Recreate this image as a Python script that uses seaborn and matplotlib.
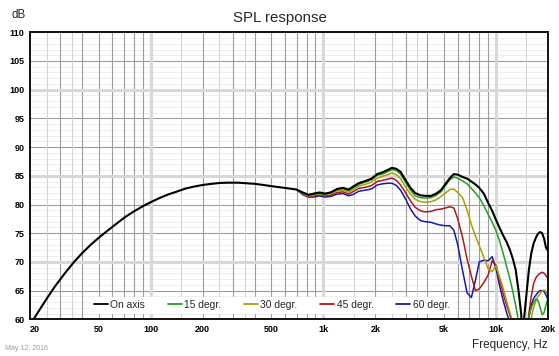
import matplotlib
matplotlib.use("Agg")
import matplotlib.pyplot as plt
import seaborn as sns
from matplotlib.lines import Line2D

# ── Data ──────────────────────────────────────────────────────────────────────
freq_low = [20, 22, 25, 28, 32, 36, 40, 45, 50, 56,
            63, 71, 80, 90, 100, 112, 125, 140, 160, 180,
            200, 225, 250, 280, 320, 360, 400, 450, 500, 560, 630]
spl_low = [59.0, 61.0, 63.6, 65.8, 68.1, 70.0, 71.5, 73.0, 74.2, 75.4,
           76.6, 77.8, 78.8, 79.7, 80.4, 81.1, 81.7, 82.2, 82.8, 83.15,
           83.4, 83.6, 83.75, 83.8, 83.8, 83.7, 83.6, 83.4, 83.2, 83.0, 82.8]

freq_hi = [700, 760, 820, 880, 950, 1020, 1100, 1200, 1300, 1400,
           1500, 1600, 1750, 1900, 2050, 2200, 2350, 2500, 2650, 2800,
           3000, 3200, 3400, 3650, 3900, 4200, 4500, 4800, 5100, 5400,
           5700, 6000, 6400, 6800, 7200, 7600, 8000, 8500, 9000, 9500,
           10000, 10500, 11000, 11500, 12000, 12500, 13000, 13500, 14000, 14250,
           14500, 15000, 15500, 16000, 16500, 17000, 17500, 18000, 18500, 19000,
           19500, 20000]

spl_on_hi = [82.6, 82.1, 81.7, 81.9, 82.1, 81.9, 82.1, 82.7, 82.9, 82.6,
             83.2, 83.7, 84.1, 84.5, 85.3, 85.6, 86.0, 86.4, 86.2, 85.7,
             84.2, 82.9, 82.0, 81.6, 81.5, 81.5, 81.9, 82.5, 83.6, 84.6,
             85.3, 85.2, 84.8, 84.5, 84.0, 83.5, 82.9, 81.9, 80.3, 78.9,
             77.3, 75.9, 74.6, 73.5, 72.2, 70.6, 68.6, 65.0, 60.8, 53.0,
             59.8, 64.3, 68.6, 71.5, 73.2, 74.2, 74.9, 75.2, 75.0, 74.0,
             72.4, 72.0]

spl_15 = [82.6, 81.9, 81.6, 81.8, 82.0, 81.8, 82.0, 82.6, 82.8, 82.4,
          83.0, 83.5, 83.9, 84.3, 85.1, 85.3, 85.7, 86.1, 85.9, 85.3,
          83.8, 82.5, 81.5, 81.2, 81.1, 81.2, 81.6, 82.2, 83.3, 84.3,
          84.8, 84.6, 84.1, 83.6, 82.8, 82.0, 81.2, 79.8, 78.3, 76.9,
          75.4, 73.6, 71.5, 69.3, 67.2, 64.9, 62.4, 59.6, 56.5, 55.0,
          54.0, 57.0, 60.5, 62.0, 62.9, 63.5, 63.3, 62.1, 60.8, 61.2,
          62.6, 63.7]

spl_30 = [82.6, 81.9, 81.5, 81.7, 81.9, 81.7, 81.9, 82.4, 82.5, 82.1,
          82.7, 83.2, 83.5, 83.9, 84.6, 84.9, 85.2, 85.5, 85.2, 84.5,
          83.0, 81.8, 80.9, 80.5, 80.4, 80.5, 80.8, 81.4, 82.0, 82.6,
          82.7, 82.1, 81.2, 79.0, 76.5, 74.5, 72.8, 70.8, 68.8, 68.3,
          69.3, 67.3, 65.4, 63.2, 61.3, 59.6, 57.5, 55.5, 53.5, 53.0,
          53.0, 54.5, 57.5, 60.2, 62.0, 63.2, 64.0, 64.5, 64.9, 65.1,
          64.8, 64.2]

spl_45 = [82.6, 81.8, 81.4, 81.5, 81.7, 81.5, 81.6, 82.1, 82.2, 81.8,
          82.3, 82.8, 83.0, 83.3, 84.0, 84.2, 84.4, 84.6, 84.2, 83.4,
          82.0, 80.6, 79.5, 78.9, 78.7, 78.8, 79.1, 79.2, 79.4, 79.6,
          79.4, 77.5, 74.3, 70.5, 67.5, 65.0, 65.3, 66.4, 67.7, 70.2,
          69.4, 66.8, 64.5, 62.5, 60.8, 59.0, 57.0, 55.0, 53.5, 53.0,
          53.5, 57.0, 61.0, 64.0, 66.2, 67.2, 67.7, 68.0, 68.2, 68.0,
          67.6, 67.1]

spl_60 = [82.6, 81.7, 81.3, 81.3, 81.5, 81.3, 81.4, 81.8, 81.9, 81.5,
          81.8, 82.3, 82.5, 82.7, 83.4, 83.6, 83.7, 83.7, 83.3, 82.5,
          80.9, 79.2, 78.0, 77.2, 77.0, 76.9, 76.6, 76.4, 76.3, 76.3,
          75.5, 73.0, 68.5, 64.6, 63.8, 66.8, 70.0, 70.3, 70.2, 70.9,
          68.8, 65.8, 63.3, 61.2, 59.5, 57.8, 56.0, 54.5, 53.5, 53.0,
          53.5, 56.5, 60.3, 62.5, 63.6, 64.2, 64.7, 65.0, 65.0, 64.8,
          64.2, 63.4]

series_names = ["On axis", "15 degr.", "30 degr.", "45 degr.", "60 degr."]
series_colors = ["#000000", "#20a020", "#a8a000", "#b01818", "#1818b0"]

x_ticks = [20, 50, 100, 200, 500, 1000, 2000, 5000, 10000, 20000]
x_tick_labels = ["20", "50", "100", "200", "500", "1k", "2k", "5k", "10k", "20k"]
y_ticks = list(range(60, 111, 5))

# ── Style ─────────────────────────────────────────────────────────────────────
sns.set_style("white")
plt.rcParams["font.family"] = ["Liberation Sans", "DejaVu Sans"]

W, H = 559, 356
fig = plt.figure(figsize=(W / 100, H / 100), dpi=100)
ax = fig.add_axes([30 / W, 1 - 319.3 / H, 518 / W, 287 / H])

ax.set_xscale("log")
ax.set_xlim(20, 20000)
ax.set_ylim(60, 110)

# grid: 1 dB light, 5 dB grey, a few wide pale bands
for v in range(61, 110):
    ax.axhline(v, color="#ebebeb", lw=0.6, zorder=0.5)
for v in y_ticks:
    ax.axhline(v, color="#9c9c9c", lw=0.8, zorder=0.6)
for v in [70, 85, 100]:
    ax.axhline(v, color="#d8d8d8", lw=2.2, zorder=0.7)

for dec in [10, 100, 1000, 10000]:
    for m in range(2, 10):
        f = m * dec
        if 20 < f < 20000:
            ax.axvline(f, color="#9c9c9c", lw=0.8, zorder=0.6)
for f in [25, 35, 150, 250, 350, 1500, 2500, 3500, 15000]:
    ax.axvline(f, color="#d0d0d0", lw=0.7, zorder=0.6)
for f in [100, 1000, 10000]:
    ax.axvline(f, color="#d8d8d8", lw=2.2, zorder=0.7)

# curves: off-axis first, on-axis on top
off_axis = [spl_15, spl_30, spl_45, spl_60]
for vals, col in reversed(list(zip(off_axis, series_colors[1:]))):
    sns.lineplot(x=freq_hi, y=vals, color=col, lw=1.1, ax=ax,
                 estimator=None, sort=False, zorder=2)
sns.lineplot(x=freq_low + freq_hi, y=spl_low + spl_on_hi, color=series_colors[0],
             lw=1.5, ax=ax, estimator=None, sort=False, zorder=3)

ax.set_xticks(x_ticks)
ax.set_xticklabels(x_tick_labels)
ax.xaxis.set_minor_locator(matplotlib.ticker.NullLocator())
ax.set_yticks(y_ticks)
ax.set_yticklabels([str(v) for v in y_ticks])
ax.tick_params(axis="both", length=0, labelsize=6.5, colors="#000000")
ax.tick_params(axis="x", pad=4)
ax.tick_params(axis="y", pad=4)
for lbl in ax.get_xticklabels() + ax.get_yticklabels():
    lbl.set_fontweight("bold")
ax.get_xticklabels()[0].set_horizontalalignment("left")
ax.set_xlabel("")
ax.set_ylabel("")

for side in ["left", "bottom", "top", "right"]:
    ax.spines[side].set_visible(True)
    ax.spines[side].set_color("#111111")
    ax.spines[side].set_linewidth(1.4)

handles = [Line2D([0], [0], color=c, lw=1.3) for c in series_colors]
leg = ax.legend(handles, series_names, loc="center left",
                bbox_to_anchor=(90.5 / W, 1 - 305 / H), bbox_transform=fig.transFigure,
                ncol=5, frameon=True, facecolor="white", edgecolor="white",
                framealpha=1, fontsize=7.4, handlelength=1.36, handletextpad=0.25,
                columnspacing=2.2, borderpad=0.3, borderaxespad=0, fancybox=False)
leg.set_zorder(5)

fig.text(0.5, 1 - 18.3 / H, "SPL response", ha="center", va="center", fontsize=10.8)
fig.text(11 / W, 1 - 15 / H, "dB", ha="left", va="center", fontsize=8.3)
fig.text(548 / W, 1 - 345 / H, "Frequency, Hz", ha="right", va="center", fontsize=8.5)
fig.text(5 / W, 1 - 348 / H, "May 12, 2016", ha="left", va="center",
         fontsize=5, color="#9a9a9a")

fig.savefig("out.png", dpi=100)
